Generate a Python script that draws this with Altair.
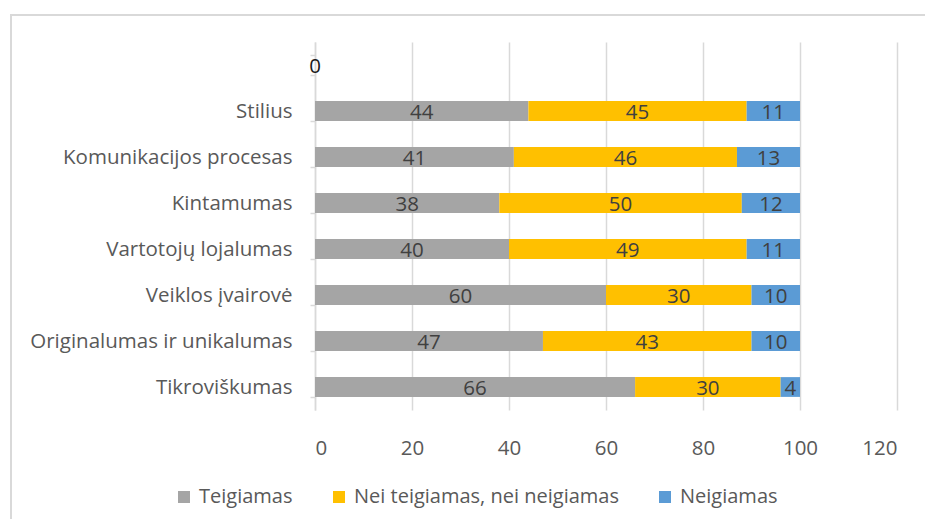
import altair as alt
import pandas as pd

categories = ["", "Stilius", "Komunikacijos procesas", "Kintamumas",
              "Vartotojų lojalumas", "Veiklos įvairovė",
              "Originalumas ir unikalumas", "Tikroviškumas"]
series = ["Teigiamas", "Nei teigiamas, nei neigiamas", "Neigiamas"]
teigiamas = [0, 44, 41, 38, 40, 60, 47, 66]
nei = [None, 45, 46, 50, 49, 30, 43, 30]
neigiamas = [None, 11, 13, 12, 11, 10, 10, 4]
colors = ["#a5a5a5", "#ffc000", "#5b9bd5"]
x_ticks = [0, 20, 40, 60, 80, 100, 120]

rows = []
for i, c in enumerate(categories):
    for j, vals in enumerate([teigiamas, nei, neigiamas]):
        v = vals[i]
        if v is None:
            continue
        rows.append({"cat": c, "series": series[j], "order": j, "value": v})
df = pd.DataFrame(rows)

FONT = "Open Sans"
FS = 20.5

base = alt.Chart(df).transform_stack(
    stack="value", groupby=["cat"], as_=["x0", "x1"],
    sort=[alt.SortField("order", order="ascending")]
).transform_calculate(mid="(datum.x0 + datum.x1) / 2")

y_enc = alt.Y("cat:N", sort=categories, title=None,
              scale=alt.Scale(paddingInner=0.57, paddingOuter=0.285),
              axis=alt.Axis(domainColor="#d9d9d9", domainWidth=1.5,
                            tickColor="#d9d9d9", tickWidth=1.5, tickSize=5,
                            tickBand="extent", labelPadding=18,
                            labelColor="#595959", labelFont=FONT,
                            labelFontSize=FS, labelLimit=400, grid=False))

bars = base.mark_bar().encode(
    x=alt.X("x0:Q", title=None,
            scale=alt.Scale(domain=[0, 120], nice=False),
            axis=alt.Axis(values=x_ticks, domain=False, ticks=False,
                          grid=True, gridColor="#d9d9d9", gridWidth=1.5,
                          labelPadding=28, labelColor="#595959",
                          labelFont=FONT, labelFontSize=FS)),
    x2="x1:Q",
    y=y_enc,
    color=alt.Color("series:N", sort=series,
                    scale=alt.Scale(domain=series, range=colors),
                    legend=alt.Legend(title=None, orient="none",
                                      direction="horizontal",
                                      legendX=-141, legendY=445,
                                      symbolType="square", symbolSize=144,
                                      symbolStrokeWidth=0, labelOffset=5,
                                      columnPadding=36, labelLimit=400,
                                      labelFont=FONT, labelFontSize=20,
                                      labelColor="#595959")),
    order=alt.Order("order:Q"),
)

labels = base.mark_text(font=FONT, fontSize=FS, baseline="middle", dy=2).encode(
    x=alt.X("mid:Q"),
    y=alt.Y("cat:N", sort=categories),
    text=alt.Text("value:Q"),
    color=alt.condition("datum.cat == ''", alt.value("#1a1a1a"), alt.value("#404040")),
)

border_df = pd.DataFrame({"a": [0]})
top_border = alt.Chart(border_df).mark_rule(color="#d9d9d9", strokeWidth=2).encode(
    x=alt.value(-305), x2=alt.value(610), y=alt.value(-27))
left_border = alt.Chart(border_df).mark_rule(color="#d9d9d9", strokeWidth=2).encode(
    x=alt.value(-304), y=alt.value(-28), y2=alt.value(480))

chart = alt.layer(top_border, left_border, bars, labels).properties(
    width=582, height=368,
    autosize=alt.AutoSizeParams(type="none"),
    padding={"left": 307, "top": 34, "right": 28, "bottom": 109},
).configure_view(stroke=None)

chart.save("out.html", embed_options={"renderer": "svg", "actions": False})
